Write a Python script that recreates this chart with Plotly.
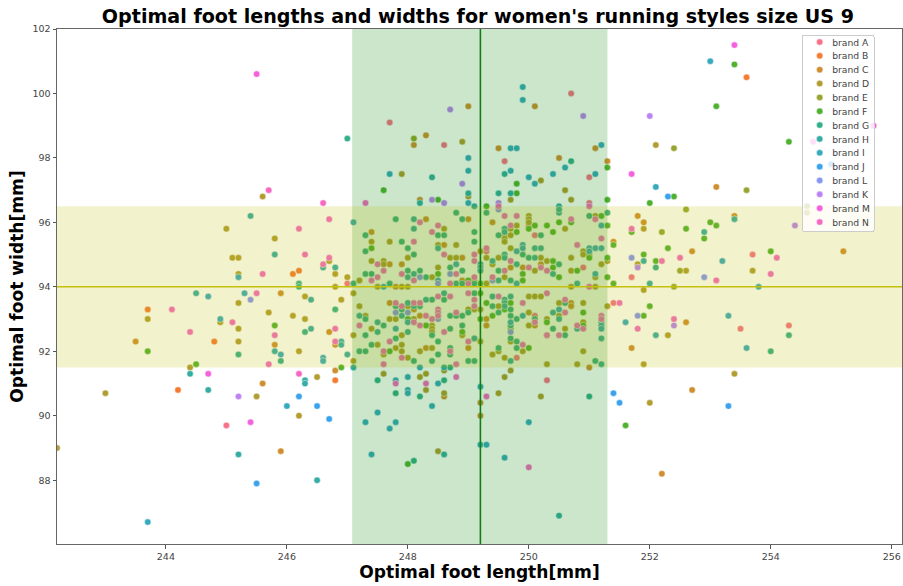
import plotly.graph_objects as go

title = "Optimal foot lengths and widths for women's running styles size US 9"
x_label = "Optimal foot length[mm]"
y_label = "Optimal foot width[mm]"
x_ticks = [244, 246, 248, 250, 252, 254, 256]
y_ticks = [88, 90, 92, 94, 96, 98, 100, 102]
x_mean, x_low, x_high = 249.2, 247.08, 251.3
y_mean, y_low, y_high = 94.0, 91.5, 96.5

brand_a = [(247.0,94.1),(245.0,89.7),(250.7,100.0),(247.7,99.1),(248.6,98.4),(249.6,97.9),(251.0,97.4),(251.0,96.6),(250.1,95.6),(250.0,95.9),(250.9,94.6),(249.3,95.1),(253.7,95.0),(251.7,94.3),(254.3,92.8),(253.5,92.7),(251.4,93.5),(250.3,91.1),(249.8,91.8),(250.3,92.5),(250.1,93.1)]
brand_b = [(243.7,93.3),(246.1,94.4),(246.2,94.5),(244.2,90.8),(244.8,92.3),(246.8,91.1),(253.6,100.5)]
brand_c = [(243.5,92.3),(245.9,93.8),(246.7,92.6),(246.8,92.2),(245.8,92.2),(246.8,91.4),(245.6,91.0),(245.9,88.9),(249.0,99.6),(250.1,99.6),(248.1,98.4),(248.3,98.7),(249.5,98.3),(251.1,98.3),(250.5,98.0),(251.3,97.9),(248.2,96.7),(248.3,96.1),(249.0,96.1),(249.4,96.0),(247.4,95.7),(248.6,95.3),(247.7,94.7),(247.9,94.7),(248.9,94.9),(249.2,95.1),(249.7,94.6),(249.9,94.6),(250.2,94.7),(248.9,94.2),(247.8,94.0),(247.7,93.5),(248.1,93.3),(248.2,93.1),(248.3,92.1),(249.0,92.1),(249.3,93.0),(249.3,92.8),(248.6,90.6),(249.2,90.4),(249.2,90.0),(251.0,91.5),(250.7,93.5),(250.7,93.4),(250.1,92.8),(251.7,92.1),(251.8,96.2),(251.9,96.0),(252.7,95.1),(255.2,95.1),(253.4,96.2),(252.6,92.9),(252.7,90.8),(252.2,88.2),(253.1,97.1),(251.4,95.4)]
brand_d = [(245.6,96.8),(245.0,95.8),(245.8,95.5),(245.1,94.9),(245.2,94.9),(246.7,94.8),(246.8,94.4),(245.2,94.4),(247.0,94.3),(246.8,94.0),(246.3,93.7),(246.9,93.6),(245.2,93.5),(245.7,93.2),(246.1,93.1),(246.3,93.0),(243.7,93.0),(244.9,92.9),(245.2,92.7),(245.2,92.3),(246.2,92.0),(244.4,91.5),(246.5,91.2),(243.0,90.7),(245.5,90.6),(246.2,90.0),(242.2,89.0),(247.1,93.8),(248.9,98.5),(247.9,97.5),(250.2,97.3),(250.6,97.0),(249.0,96.8),(249.7,96.7),(250.7,96.7),(250.0,96.2),(250.0,96.1),(250.0,96.0),(250.6,95.8),(251.1,96.2),(248.6,95.8),(249.6,95.6),(249.6,95.5),(249.6,95.4),(249.7,95.8),(249.7,95.6),(249.8,95.9),(247.4,95.4),(247.7,95.4),(248.0,94.9),(248.5,95.3),(248.8,95.3),(250.9,95.1),(250.9,95.0),(251.0,95.0),(249.7,95.2),(248.7,94.9),(248.8,94.9),(249.3,94.9),(247.6,94.8),(247.6,94.7),(247.4,94.8),(248.5,94.6),(249.4,94.7),(249.5,94.9),(250.1,94.5),(250.3,94.8),(250.2,94.9),(250.7,94.9),(250.7,94.5),(251.2,94.7),(251.3,94.8),(251.1,94.3),(247.2,94.2),(248.4,94.3),(249.1,94.2),(249.6,94.3),(247.5,94.0),(247.9,94.0),(248.0,94.0),(249.3,94.1),(250.7,94.0),(251.1,94.0),(251.9,95.8),(251.8,94.7),(252.6,94.5),(253.7,94.5),(251.9,93.9),(252.3,92.5),(251.9,91.6),(253.4,91.3),(252.0,90.4),(252.1,98.4),(251.3,93.4),(247.1,91.7),(247.1,92.5),(247.2,93.4),(247.3,93.1),(247.5,92.2),(247.9,92.2),(247.9,92.0),(247.6,91.9),(247.8,92.1),(247.9,92.5),(247.4,92.7),(247.7,93.0),(247.8,93.0),(248.0,93.4),(248.1,93.0),(248.0,91.8),(248.2,92.0),(248.4,92.1),(248.4,92.8),(248.4,92.7),(248.4,92.6),(248.9,92.5),(249.0,93.3),(249.1,93.3),(249.2,93.3),(249.1,92.4),(249.2,92.3),(249.5,93.4),(249.7,92.3),(249.4,91.9),(249.5,92.0),(249.6,91.8),(249.9,92.0),(250.0,92.8),(250.0,93.2),(250.0,93.7),(250.1,93.7),(250.2,93.7),(250.3,93.0),(250.5,93.5),(250.5,93.1),(250.6,92.7),(250.9,93.5),(250.9,92.9),(250.9,92.0),(248.3,91.3),(248.2,91.2),(248.3,90.8),(248.6,91.4),(248.6,90.7),(247.6,91.3),(249.5,90.7),(249.6,91.2),(249.7,91.4),(248.5,88.9),(250.2,90.6),(250.3,91.6),(250.8,91.6)]
brand_e = [(248.1,98.6),(252.4,98.3),(253.6,97.0),(252.6,96.4),(252.2,95.7),(252.5,94.5),(252.4,94.0),(254.6,96.5),(254.6,96.3)]
brand_f = [(243.7,92.0),(245.8,92.8),(244.5,91.6),(246.9,91.5),(247.6,97.0),(249.8,97.2),(249.8,96.9),(248.5,96.7),(251.3,97.7),(251.3,96.7),(249.3,96.5),(250.0,95.8),(250.1,95.9),(250.3,95.9),(250.5,96.0),(250.7,96.0),(251.2,96.2),(251.3,95.9),(249.8,95.7),(250.4,95.7),(247.4,95.2),(251.0,94.9),(251.3,94.9),(250.4,94.8),(250.4,94.6),(250.5,94.3),(250.8,94.5),(251.3,94.3),(248.5,94.4),(249.0,94.2),(249.9,94.4),(249.9,94.2),(251.4,94.1),(251.4,95.3),(253.4,100.9),(253.1,99.6),(254.3,98.5),(252.4,96.8),(252.0,96.6),(251.7,95.7),(252.6,95.8),(253.0,96.0),(253.1,95.9),(252.9,95.5),(252.3,95.2),(254.0,95.1),(251.9,95.0),(252.1,94.8),(252.0,93.4),(251.9,93.1),(251.6,89.7),(248.0,88.5),(247.7,92.0),(250.0,92.1),(248.9,92.6),(248.3,92.8),(248.0,93.0),(249.2,94.1),(249.2,93.0),(249.2,93.8),(249.3,93.5),(249.4,93.1),(249.6,93.3),(249.7,93.5),(249.7,92.7),(250.3,92.9),(250.9,93.2),(250.9,92.8)]
brand_g = [(247.0,98.6),(246.2,94.1),(246.2,94.0),(246.8,93.3),(246.3,92.6),(245.2,91.9),(245.9,91.7),(247.8,96.1),(248.8,96.3),(248.9,96.1),(249.3,96.3),(250.7,97.9),(251.0,96.2),(251.3,96.3),(247.3,95.6),(248.5,95.6),(248.6,95.6),(249.1,95.7),(249.5,95.6),(250.2,95.6),(247.3,95.1),(247.9,95.4),(249.1,95.4),(248.0,95.2),(248.1,95.0),(249.9,95.0),(250.0,94.9),(248.7,94.6),(248.0,94.5),(248.2,94.5),(247.3,94.4),(247.4,94.4),(248.3,94.3),(248.9,94.5),(247.1,94.1),(249.5,94.5),(250.5,94.7),(249.7,94.2),(247.7,94.1),(248.8,94.1),(248.9,94.1),(249.1,94.1),(252.1,94.6),(254.3,92.5),(254.0,92.0),(249.5,92.1),(249.0,91.7),(249.1,91.7),(248.7,92.1),(248.7,91.9),(248.5,91.9),(248.4,91.7),(248.1,91.7),(247.2,92.0),(247.3,92.0),(247.4,92.2),(247.8,92.4),(248.5,92.3),(248.7,92.7),(248.9,92.8),(247.3,92.5),(247.6,92.8),(247.3,93.0),(247.8,93.4),(247.9,93.3),(248.2,93.4),(248.4,93.6),(248.6,93.6),(248.7,93.1),(248.8,93.1),(248.9,93.1),(249.0,93.2),(249.1,93.8),(249.4,93.4),(249.5,93.2),(249.7,93.3),(249.7,93.1),(249.8,93.0),(250.1,93.0),(250.4,92.7),(250.6,92.5),(250.6,93.5),(249.8,92.3),(249.8,92.1),(249.7,92.8),(249.7,92.4),(248.4,92.5),(248.7,91.5),(251.1,91.7),(251.0,90.6),(247.8,90.7),(248.2,90.6),(248.1,88.6),(247.5,91.1),(248.6,91.1)]
brand_h = [(245.4,96.2),(245.8,95.0),(246.6,94.6),(246.8,94.6),(244.5,93.8),(246.4,93.6),(246.9,92.3),(246.9,92.2),(246.4,92.7),(245.8,92.0),(247.0,91.9),(244.4,91.3),(246.3,91.1),(246.3,91.0),(244.7,90.8),(245.2,88.8),(246.5,88.0),(249.6,97.5),(248.4,97.4),(249.0,96.9),(249.5,96.9),(249.7,96.9),(248.2,96.6),(249.1,96.5),(250.5,96.5),(250.5,96.3),(250.5,96.4),(248.1,96.1),(248.1,95.8),(249.6,95.8),(249.6,95.7),(250.1,95.2),(250.2,95.2),(248.5,95.2),(249.6,95.0),(249.6,94.9),(249.4,94.8),(249.8,94.7),(248.0,94.3),(248.1,94.4),(250.4,94.4),(249.5,94.2),(250.1,94.9),(250.8,94.1),(247.2,93.1),(247.5,92.9),(247.5,92.6),(248.0,92.6),(248.0,93.5),(248.1,93.4),(247.9,93.1),(248.3,93.6),(248.6,93.8),(249.4,93.7),(249.6,93.6),(249.6,93.5),(249.6,93.4),(249.7,93.7),(250.4,93.2),(250.5,93.0),(251.2,92.4),(251.2,91.6),(251.9,94.8),(252.9,95.7),(252.0,94.1),(252.1,92.5),(253.4,96.1),(247.1,91.5),(248.6,91.5),(249.7,91.7),(250.5,86.9),(248.6,88.8),(249.1,92.4)]
brand_i = [(245.2,94.3),(244.7,93.7),(245.3,93.8),(244.9,93.0),(246.6,91.8),(246.6,91.7),(245.9,91.9),(246.0,90.3),(243.7,86.7),(247.1,96.0),(249.9,100.2),(249.9,99.8),(249.7,98.3),(249.8,98.3),(251.2,98.4),(249.0,98.0),(250.6,97.7),(249.0,97.6),(249.7,97.6),(247.7,97.5),(250.0,97.4),(251.1,97.5),(250.4,97.5),(250.1,97.2),(249.0,96.6),(251.2,95.9),(251.0,95.2),(251.1,95.2),(251.2,95.2),(251.0,95.1),(249.9,95.3),(249.9,95.2),(249.8,95.1),(248.8,94.7),(249.2,94.7),(249.2,94.6),(249.2,94.5),(251.1,94.4),(248.5,94.2),(249.8,94.1),(247.6,94.0),(253.0,101.0),(252.1,97.1),(253.2,94.8),(253.8,94.0),(253.3,93.1),(253.6,92.1),(251.6,92.9),(248.2,91.5),(247.8,91.1),(248.0,91.2),(248.5,91.0),(248.0,90.8),(248.0,90.7),(248.4,90.3),(247.5,90.1),(247.3,89.8),(247.8,89.8),(247.7,89.6),(247.4,88.8),(249.2,90.9),(249.2,89.1),(249.3,89.1),(249.6,88.7),(250.0,89.8),(247.8,92.7),(248.0,92.9),(249.9,93.1),(250.5,93.3),(250.8,92.7),(251.2,92.9),(251.2,92.8),(251.2,92.7),(249.7,92.9),(254.8,98.6)]
brand_j = [(246.2,90.6),(246.5,90.3),(246.7,89.9),(245.5,87.9),(252.3,96.8),(253.3,90.3),(251.4,90.7),(251.5,90.4),(255.0,97.8)]
brand_l = [(245.4,93.6),(248.7,94.4),(248.2,94.3),(248.5,94.1),(249.4,94.2),(247.8,93.2),(248.0,93.2),(248.1,92.9),(248.5,93.0),(249.7,92.6),(251.7,94.9),(252.9,94.3),(251.8,93.1),(249.5,96.4)]
brand_k = [(245.2,90.6),(248.7,99.5),(250.9,99.3),(248.9,97.2),(248.4,96.7),(248.6,96.6),(249.5,96.6),(251.8,94.6),(252.4,92.8),(252.0,99.3),(254.4,95.9)]
brand_m = [(245.5,100.6),(244.7,91.3),(245.4,89.8),(253.4,101.5),(251.7,97.5),(255.7,99.0),(254.7,98.5)]
brand_n = [(245.7,97.0),(246.2,95.8),(246.6,96.6),(246.7,96.1),(246.3,95.0),(246.7,94.9),(246.6,94.7),(245.6,94.4),(245.5,93.8),(244.1,93.3),(245.1,92.9),(244.4,92.6),(246.8,92.7),(245.8,92.5),(246.8,92.3),(245.7,91.6),(246.2,91.3),(247.3,96.6),(248.2,96.0),(249.6,96.2),(249.8,96.2),(250.7,96.1),(251.0,96.5),(249.5,96.5),(251.1,96.1),(248.4,95.7),(248.5,95.9),(249.7,95.9),(248.1,95.4),(251.2,95.5),(250.8,95.3),(248.6,95.0),(249.1,95.0),(249.1,94.8),(249.3,95.2),(247.5,94.7),(247.6,94.5),(247.9,94.4),(249.7,94.8),(249.6,94.5),(250.0,94.6),(250.2,94.6),(250.3,94.5),(247.5,94.3),(247.4,94.2),(248.1,94.2),(248.8,94.4),(249.1,94.3),(249.4,94.3),(248.7,94.1),(249.0,94.1),(251.0,94.0),(252.2,94.8),(252.5,94.9),(254.1,94.9),(254.0,94.4),(253.1,94.2),(251.7,95.8),(252.4,93.0),(251.8,92.7),(251.5,93.5),(247.2,92.8),(247.7,92.3),(247.6,92.0),(247.6,91.6),(247.9,93.4),(247.8,93.5),(247.9,91.8),(248.1,93.5),(248.2,93.5),(248.2,92.8),(248.3,93.1),(248.3,91.0),(248.4,93.0),(248.5,93.7),(248.5,93.3),(248.5,93.2),(248.5,93.1),(248.7,93.7),(248.6,92.6),(248.7,92.0),(248.8,93.2),(248.8,91.6),(248.8,91.2),(249.0,93.8),(249.0,92.3),(249.1,93.6),(249.1,93.4),(249.5,93.7),(249.9,93.5),(249.9,92.2),(250.1,92.9),(250.3,93.8),(250.3,92.5),(250.5,92.5),(250.6,93.6),(250.6,93.2),(250.9,92.7),(251.2,93.1),(251.2,93.0),(250.8,92.8),(249.3,90.6),(250.0,88.4),(248.1,92.9),(247.8,91.0)]

brands = ["brand A", "brand B", "brand C", "brand D", "brand E", "brand F", "brand G",
          "brand H", "brand I", "brand J", "brand L", "brand K", "brand M", "brand N"]
series = [brand_a, brand_b, brand_c, brand_d, brand_e, brand_f, brand_g,
          brand_h, brand_i, brand_j, brand_l, brand_k, brand_m, brand_n]
colors = ["#f77189", "#f57a32", "#cf8f31", "#b19d31", "#98a531", "#50b131", "#34af8a",
          "#36ada4", "#38aabe", "#3ba3ec", "#8795f4", "#bb83f4", "#f561dd", "#f668c2"]

fig = go.Figure()
for name, pts, col in zip(brands, series, colors):
    fig.add_trace(go.Scatter(
        x=[p[0] for p in pts], y=[p[1] for p in pts], mode="markers", name=name,
        marker=dict(size=6.5, color=col, line=dict(color="white", width=0.5)),
    ))

fig.add_shape(type="rect", xref="x", yref="y", x0=x_low, x1=x_high, y0=86, y1=102,
              fillcolor="rgba(0,128,0,0.2)", line_width=0, layer="above")
fig.add_shape(type="rect", xref="x", yref="y", x0=242, x1=257, y0=y_low, y1=y_high,
              fillcolor="rgba(191,191,0,0.2)", line_width=0, layer="above")
fig.add_shape(type="line", xref="x", yref="y", x0=x_mean, x1=x_mean, y0=86, y1=102,
              line=dict(color="#108010", width=1.6), layer="above")
fig.add_shape(type="line", xref="x", yref="y", x0=242, x1=257, y0=y_mean, y1=y_mean,
              line=dict(color="#c4c010", width=1.6), layer="above")

font = "DejaVu Sans"
axis_common = dict(
    showgrid=False, zeroline=False, ticks="outside", ticklen=3.5, tickwidth=0.8,
    tickcolor="#555555", showline=True, linecolor="#666666", linewidth=1, mirror=True,
    tickfont=dict(family=font, size=9.5, color="#444444"),
)
fig.update_layout(
    width=903, height=586,
    margin=dict(l=56.5, r=1, t=29, b=42),
    paper_bgcolor="white", plot_bgcolor="white",
    font=dict(family=font),
    title=dict(text=f"<b>{title}</b>", x=0.5293, xanchor="center", y=0.973, yanchor="middle",
               font=dict(family=font, size=19.1, color="black")),
    xaxis=dict(range=[242.2, 256.17], tickvals=x_ticks,
               title=dict(text=f"<b>{x_label}</b>", font=dict(family=font, size=17.1, color="black"), standoff=3),
               **axis_common),
    yaxis=dict(range=[86.02, 102], tickvals=y_ticks,
               title=dict(text=f"<b>{y_label}</b>", font=dict(family=font, size=17.1, color="black"), standoff=4),
               **axis_common),
    legend=dict(x=0.8985, xanchor="center", y=0.99, yanchor="top",
                bgcolor="rgba(255,255,255,0.8)", bordercolor="#cccccc", borderwidth=1,
                font=dict(family=font, size=9.2, color="#444444"), tracegroupgap=0,
                itemwidth=30),
    showlegend=True,
)
compact_legend = """
document.body.style.margin = '0';
(function () {
  var legend = document.querySelector('.legend');
  if (!legend) return;
  legend.setAttribute('transform', 'translate(802,34.5)');
  var bg = legend.querySelector('.bg');
  bg.setAttribute('width', 71.5);
  bg.setAttribute('height', 196.5);
  bg.setAttribute('rx', 2);
  bg.setAttribute('ry', 2);
  var box = legend.querySelector('.scrollbox');
  box.removeAttribute('clip-path');
  legend.querySelectorAll('.traces').forEach(function (t, i) {
    t.setAttribute('transform', 'translate(-2.3,' + (7.5 + i * 13.85) + ')');
    t.querySelector('.legendtext').setAttribute('x', 32.5);
  });
})();
"""
fig.write_html("out.html", config={"displayModeBar": False}, post_script=compact_legend)
